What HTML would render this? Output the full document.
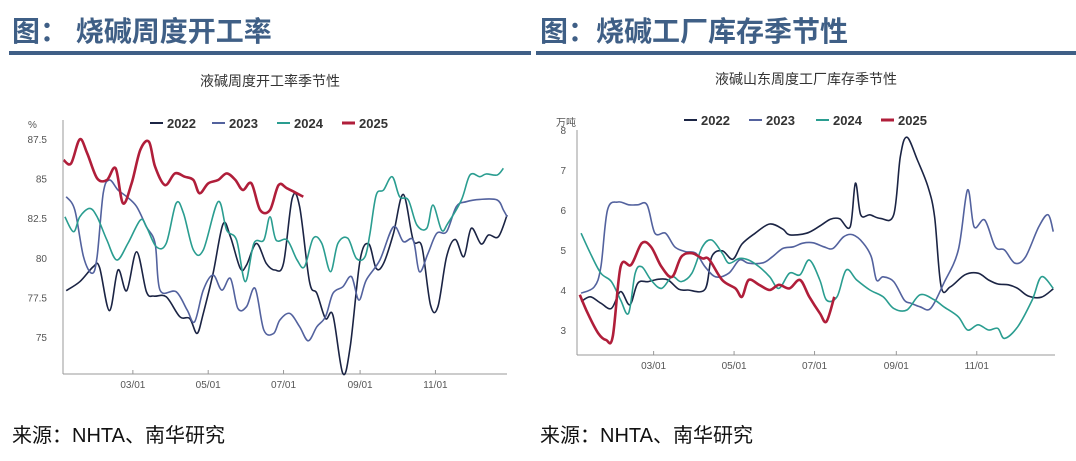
<!DOCTYPE html>
<html><head><meta charset="utf-8">
<style>
body{margin:0;background:#fff;width:1076px;height:461px;overflow:hidden;font-family:"Liberation Sans","Noto Sans CJK SC",sans-serif;}
.h{position:absolute;top:15px;font-size:28px;line-height:34px;font-weight:bold;color:#3f5f86;font-family:"Liberation Sans","Noto Sans CJK SC",sans-serif;}
.ul{position:absolute;top:51px;height:4px;background:#3f5f86;}
.src{position:absolute;top:419px;font-size:20px;color:#111;}
svg{position:absolute;left:0;top:0;}
</style></head><body>
<div class="h" style="left:12px">图：&nbsp;烧碱周度开工率</div>
<div class="ul" style="left:9px;width:522px"></div>
<div class="h" style="left:540px">图：烧碱工厂库存季节性</div>
<div class="ul" style="left:536px;width:540px"></div>
<div class="src" style="left:12px">来源：NHTA、南华研究</div>
<div class="src" style="left:540px">来源：NHTA、南华研究</div>
<svg id="svg" width="1076" height="461"></svg>
<script>
// ---- Left chart: operating rate (%) ----
const L_years = ["2022","2023","2024","2025"];
const L_yTicks = [75,77.5,80,82.5,85,87.5];
const L_yTickLabels = ["75","77.5","80","82.5","85","87.5"];
const xTickDays = [59,120,181,243,304];
const xTickLabels = ["03/01","05/01","07/01","09/01","11/01"];
const L_d2022 = [5,16,27,32,40,47,54,62,70,76,86,97,105,111,116,124,132,138,146,151,159,167,174,181,188,194,202,208,215,221,229,235,243,250,256,262,270,278,286,293,300,306,313,320,327,333,341,347,355,362];
const L_v2022 = [77.92,78.49,79.44,79.4,76.66,79.23,77.92,80.38,77.86,77.58,77.54,76.28,76.17,75.23,76.49,79.02,82.13,81.33,79.33,79.54,80.91,79.65,79.23,79.65,83.75,83.23,78.49,77.75,76.17,76.38,72.7,74.38,79.86,80.87,79.33,79.65,81.54,84.0,81.12,80.7,77.02,76.91,80.07,81.16,80.07,81.86,80.87,81.44,81.33,82.7];
const L_d2023 = [5,12,19,26,30,35,40,47,54,62,70,77,81,94,103,109,116,124,131,138,144,151,158,165,173,178,186,194,201,208,215,221,229,236,242,248,259,270,278,286,291,298,305,313,321,329,340,354,359,362];
const L_v2023 = [83.86,83.02,80.07,79.02,80.07,84.07,84.91,84.28,83.86,83.23,81.96,80.91,77.96,77.86,76.7,75.96,77.96,78.91,77.96,78.7,76.81,76.91,78.07,75.44,75.23,76.07,76.49,75.65,74.76,75.65,76.28,77.75,78.17,78.81,77.33,78.6,79.86,81.96,81.02,81.12,79.12,80.28,81.54,81.65,83.23,83.54,83.69,83.65,83.02,82.59];
const L_d2024 = [4,11,16,24,30,38,46,55,65,70,78,86,94,100,108,116,128,135,143,150,157,165,170,175,184,192,198,205,212,219,225,233,240,247,251,256,262,269,275,282,289,297,302,309,314,325,332,340,345,354,359];
const L_v2024 = [82.59,81.65,82.59,83.12,82.59,81.12,79.86,80.91,82.38,81.96,80.7,80.91,83.44,82.81,80.49,80.49,83.54,81.75,81.12,78.49,80.91,81.12,82.59,81.12,81.12,79.86,79.44,81.23,80.91,79.12,80.91,81.23,79.96,80.07,81.54,83.96,84.28,85.12,83.86,83.65,82.07,81.86,83.33,81.75,82.17,83.65,85.23,85.12,85.29,85.23,85.65];
const L_d2025 = [3,9,16,22,30,38,45,51,58,65,72,77,85,93,101,108,113,120,128,135,142,148,155,162,170,177,184,197];
const L_v2025 = [86.17,85.96,87.48,86.6,85.02,84.91,85.65,83.44,84.7,86.81,87.33,85.75,84.59,85.33,85.12,84.91,84.07,84.7,84.91,85.33,84.91,84.28,84.7,83.02,83.02,84.59,84.38,83.86];

// ---- Right chart: inventory (10k tons) ----
const R_yTicks = [3,4,5,6,7,8];
const R_yTickLabels = ["3","4","5","6","7","8"];
const R_d2022 = [4,11,19,27,34,41,47,55,63,70,78,85,98,103,111,119,126,136,147,157,162,175,185,193,200,208,212,216,223,231,241,246,251,259,267,272,277,284,295,305,313,320,328,335,343,353,362];
const R_v2022 = [3.71,3.83,3.67,3.54,3.96,3.63,4.17,4.21,4.27,4.25,4.02,4.0,4.02,4.83,4.98,4.77,5.15,5.42,5.65,5.52,5.38,5.42,5.6,5.77,5.78,5.58,6.67,5.88,5.88,5.79,5.88,7.33,7.82,7.25,6.58,5.83,4.08,4.08,4.38,4.42,4.25,4.15,4.13,4.04,3.85,3.82,4.03];
const R_d2023 = [4,14,19,24,32,40,47,54,60,68,75,83,91,98,106,116,124,131,142,149,157,165,172,180,188,195,203,210,218,224,228,233,241,249,254,261,269,279,290,297,302,310,318,325,333,341,351,358,362];
const R_v2023 = [3.92,4.08,4.58,6.0,6.2,6.13,6.13,6.13,5.42,5.42,5.08,4.96,4.92,4.58,4.33,4.42,4.75,4.67,4.68,4.83,5.04,5.08,5.17,5.18,5.08,5.04,5.33,5.38,5.17,4.83,4.25,4.33,4.21,3.75,3.67,3.58,3.54,4.17,5.0,6.5,5.58,5.75,5.08,5.0,4.67,4.83,5.58,5.88,5.46];
const R_d2024 = [4,11,19,27,34,40,45,50,57,65,73,80,88,96,103,111,116,124,131,139,147,154,162,170,177,185,190,198,205,213,223,233,241,251,261,272,279,290,297,305,313,320,325,335,346,353,362];
const R_v2024 = [5.42,4.92,4.42,4.21,3.75,3.42,4.42,4.58,4.25,4.04,4.33,4.21,4.42,5.08,5.25,4.92,4.67,4.79,4.75,4.58,4.33,4.04,4.42,4.38,4.75,4.25,3.75,3.83,4.5,4.25,4.0,3.83,3.54,3.5,3.88,3.75,3.58,3.33,3.0,3.13,3.0,3.04,2.79,3.08,3.75,4.33,4.04];
const R_d2025 = [3,9,17,23,28,34,42,50,57,65,73,80,88,96,101,111,121,126,131,139,147,154,162,170,177,185,190,196];
const R_v2025 = [3.88,3.42,2.92,2.75,2.83,4.58,4.63,5.17,5.08,4.58,4.33,4.83,4.92,4.79,4.77,4.25,4.04,3.83,4.25,4.13,4.0,4.13,4.04,4.25,3.83,3.42,3.21,3.83];

const colors = ["#1b2444","#53629e","#2a9d90","#b01e3a"];
const NS = "http://www.w3.org/2000/svg";
const svg = document.getElementById("svg");
function mk(tag, attrs, parent){const e=document.createElementNS(NS,tag);for(const k in attrs)e.setAttribute(k,attrs[k]);(parent||svg).appendChild(e);return e;}
function smooth(pts){
  let d="M"+pts[0][0].toFixed(1)+","+pts[0][1].toFixed(1);
  for(let i=0;i<pts.length-1;i++){
    const p0=pts[i-1]||pts[i],p1=pts[i],p2=pts[i+1],p3=pts[i+2]||p2;
    const c1=[p1[0]+(p2[0]-p0[0])/6,p1[1]+(p2[1]-p0[1])/6];
    const c2=[p2[0]-(p3[0]-p1[0])/6,p2[1]-(p3[1]-p1[1])/6];
    d+="C"+c1[0].toFixed(1)+","+c1[1].toFixed(1)+" "+c2[0].toFixed(1)+","+c2[1].toFixed(1)+" "+p2[0].toFixed(1)+","+p2[1].toFixed(1);
  }
  return d;
}
function chart(cfg){
  const g=mk("g",{});
  
  
  const X=d=>cfg.x0+d*cfg.dx, Y=v=>cfg.yA+(cfg.vA-v)*cfg.dy;
  const t=mk("text",{x:cfg.titleX,y:cfg.titleY,"font-size":14,fill:"#333","text-anchor":"middle"},g);
  t.textContent=cfg.title;
  
  
  const u=mk("text",{x:cfg.unitX,y:cfg.unitY,"font-size":10,fill:"#555"},g);
  u.textContent=cfg.unit;
  
  
  const ya=mk("line",{x1:cfg.left,x2:cfg.left,y1:cfg.top,y2:cfg.bottom,stroke:"#999","stroke-width":1},g);
  
  
  const xa=mk("line",{x1:cfg.left,x2:cfg.right,y1:cfg.bottom,y2:cfg.bottom,stroke:"#999","stroke-width":1},g);
  
  
  cfg.yTicks.forEach((v,i)=>{
    const l=mk("text",{x:cfg.left-cfg.labOff,y:Y(v)+4,"font-size":10,fill:"#555","text-anchor":"end"},g);
    l.textContent=cfg.yLabels[i];
    
    
  });
  xTickDays.forEach((d,i)=>{
    const tk=mk("line",{x1:X(d),x2:X(d),y1:cfg.bottom-4,y2:cfg.bottom,stroke:"#999"},g);
    
    
    const l=mk("text",{x:X(d),y:cfg.bottom+14,"font-size":10,fill:"#555","text-anchor":"middle"},g);
    l.textContent=xTickLabels[i];
    
    
  });
  cfg.series.forEach((s,i)=>{
    const pts=s[0].map((d,j)=>[X(d),Y(s[1][j])]);
    const p=mk("path",{d:smooth(pts),fill:"none",stroke:colors[i],"stroke-width":i==3?2.6:1.6,"stroke-linejoin":"round"},g);
    
    
    const lx=cfg.legX[i];
    const lg=mk("g",{},g);
    
    
    mk("line",{x1:lx,x2:lx+13,y1:cfg.legY,y2:cfg.legY,stroke:colors[i],"stroke-width":i==3?3:2},lg);
    const lt=mk("text",{x:lx+17,y:cfg.legY+5,"font-size":13,"font-weight":"bold",fill:"#333"},lg);
    lt.textContent=L_years[i];
  });
}
chart({name:"left-chart",title:"液碱周度开工率季节性",titleX:270,titleY:86,unit:"%",unitX:28,unitY:128,
  left:63,right:507,top:120,bottom:374,x0:60,dx:1.235,yA:139,vA:87.5,dy:15.84,labOff:16,
  yTicks:L_yTicks,yLabels:L_yTickLabels,legX:[150,212,277,342],legY:123,
  series:[[L_d2022,L_v2022],[L_d2023,L_v2023],[L_d2024,L_v2024],[L_d2025,L_v2025]]});
chart({name:"right-chart",title:"液碱山东周度工厂库存季节性",titleX:806,titleY:84,unit:"万吨",unitX:556,unitY:126,
  left:577,right:1055,top:130,bottom:355,x0:575.8,dx:1.319,yA:130,vA:8,dy:40,labOff:11,
  yTicks:R_yTicks,yLabels:R_yTickLabels,legX:[684,749,816,881],legY:120,
  series:[[R_d2022,R_v2022],[R_d2023,R_v2023],[R_d2024,R_v2024],[R_d2025,R_v2025]]});
</script>
</body></html>
